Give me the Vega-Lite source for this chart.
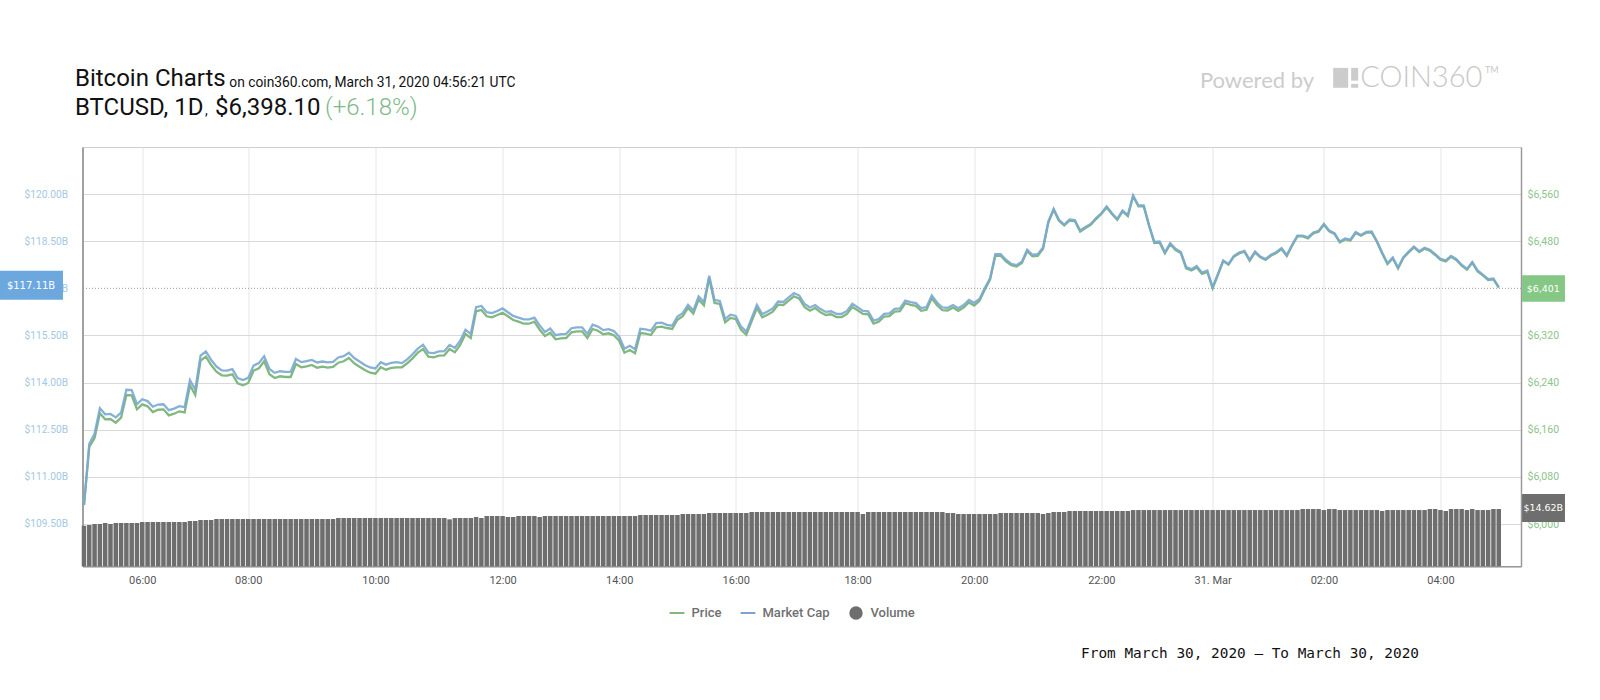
{"$schema":"https://vega.github.io/schema/vega-lite/v6.json","width":1438.5,"height":419.3,"autosize":{"type":"none"},"padding":{"left":82.5,"top":147,"right":79,"bottom":133.7},"background":"white","config":{"font":"Roboto","view":{"stroke":"#cfcfcf","strokeWidth":1}},
"data":{"values":[
{"slot":0,"price":6032.3,"cap":110.10,"volume":10.36},{"slot":1,"price":6130.8,"cap":112.05,"volume":10.54},{"slot":2,"price":6146.1,"cap":112.37,"volume":10.79},{"slot":3,"price":6188,"cap":113.18,"volume":10.79},{"slot":4,"price":6177.8,"cap":112.99,"volume":11.05},{"slot":5,"price":6178.3,"cap":113.00,"volume":10.79},{"slot":6,"price":6172.1,"cap":112.89,"volume":11.05},{"slot":7,"price":6180.6,"cap":113.04,"volume":11.05},{"slot":8,"price":6219.1,"cap":113.77,"volume":11.05},{"slot":9,"price":6218.6,"cap":113.76,"volume":11.05},
{"slot":10,"price":6194.8,"cap":113.31,"volume":11.05},{"slot":11,"price":6203.3,"cap":113.47,"volume":11.30},{"slot":12,"price":6199.9,"cap":113.41,"volume":11.30},{"slot":13,"price":6190.2,"cap":113.23,"volume":11.30},{"slot":14,"price":6194.1,"cap":113.30,"volume":11.30},{"slot":15,"price":6194.8,"cap":113.31,"volume":11.30},{"slot":16,"price":6184.6,"cap":113.12,"volume":11.30},{"slot":17,"price":6187.4,"cap":113.17,"volume":11.30},{"slot":18,"price":6191.4,"cap":113.25,"volume":11.30},{"slot":19,"price":6189.7,"cap":113.22,"volume":11.30},
{"slot":20,"price":6235.6,"cap":114.08,"volume":11.56},{"slot":21,"price":6219.1,"cap":113.77,"volume":11.56},{"slot":22,"price":6277.4,"cap":114.86,"volume":11.81},{"slot":23,"price":6284.2,"cap":114.99,"volume":11.81},{"slot":24,"price":6270.1,"cap":114.72,"volume":11.81},{"slot":25,"price":6258.7,"cap":114.51,"volume":12.07},{"slot":26,"price":6252.6,"cap":114.39,"volume":12.07},{"slot":27,"price":6251.9,"cap":114.38,"volume":12.07},{"slot":28,"price":6254.3,"cap":114.43,"volume":12.07},{"slot":29,"price":6239,"cap":114.14,"volume":12.07},
{"slot":30,"price":6235.6,"cap":114.08,"volume":12.07},{"slot":31,"price":6239.5,"cap":114.15,"volume":12.07},{"slot":32,"price":6260.4,"cap":114.54,"volume":12.07},{"slot":33,"price":6264.5,"cap":114.62,"volume":12.07},{"slot":34,"price":6276.4,"cap":114.84,"volume":12.07},{"slot":35,"price":6254.3,"cap":114.43,"volume":12.07},{"slot":36,"price":6248,"cap":114.31,"volume":12.07},{"slot":37,"price":6250.9,"cap":114.36,"volume":12.07},{"slot":38,"price":6249.7,"cap":114.34,"volume":12.07},{"slot":39,"price":6249.7,"cap":114.34,"volume":12.07},
{"slot":40,"price":6271.8,"cap":114.75,"volume":12.07},{"slot":41,"price":6266.2,"cap":114.65,"volume":12.07},{"slot":42,"price":6267.9,"cap":114.68,"volume":12.07},{"slot":43,"price":6270.1,"cap":114.72,"volume":12.07},{"slot":44,"price":6265.5,"cap":114.64,"volume":12.07},{"slot":45,"price":6267.2,"cap":114.67,"volume":12.07},{"slot":46,"price":6265.5,"cap":114.64,"volume":12.07},{"slot":47,"price":6266.7,"cap":114.66,"volume":12.07},{"slot":48,"price":6274,"cap":114.80,"volume":12.32},{"slot":49,"price":6276.4,"cap":114.84,"volume":12.32},
{"slot":50,"price":6282,"cap":114.95,"volume":12.32},{"slot":51,"price":6273,"cap":114.78,"volume":12.32},{"slot":52,"price":6267.2,"cap":114.67,"volume":12.32},{"slot":53,"price":6261.6,"cap":114.56,"volume":12.32},{"slot":54,"price":6257,"cap":114.48,"volume":12.32},{"slot":55,"price":6255.3,"cap":114.45,"volume":12.32},{"slot":56,"price":6266.2,"cap":114.65,"volume":12.32},{"slot":57,"price":6262.1,"cap":114.57,"volume":12.32},{"slot":58,"price":6265,"cap":114.63,"volume":12.32},{"slot":59,"price":6266.2,"cap":114.65,"volume":12.32},
{"slot":60,"price":6266.2,"cap":114.62,"volume":12.32},{"slot":61,"price":6273,"cap":114.74,"volume":12.32},{"slot":62,"price":6281.4,"cap":114.90,"volume":12.32},{"slot":63,"price":6291,"cap":115.08,"volume":12.32},{"slot":64,"price":6297.2,"cap":115.20,"volume":12.32},{"slot":65,"price":6284.2,"cap":114.95,"volume":12.32},{"slot":66,"price":6283.1,"cap":114.94,"volume":12.32},{"slot":67,"price":6285.9,"cap":114.99,"volume":12.32},{"slot":68,"price":6286.5,"cap":115.00,"volume":12.32},{"slot":69,"price":6297.2,"cap":115.20,"volume":11.99},
{"slot":70,"price":6291.6,"cap":115.10,"volume":12.32},{"slot":71,"price":6304,"cap":115.33,"volume":12.32},{"slot":72,"price":6322.7,"cap":115.68,"volume":12.32},{"slot":73,"price":6315.9,"cap":115.55,"volume":12.32},{"slot":74,"price":6361.3,"cap":116.40,"volume":12.58},{"slot":75,"price":6363.5,"cap":116.44,"volume":12.32},{"slot":76,"price":6352.8,"cap":116.24,"volume":12.83},{"slot":77,"price":6351.1,"cap":116.21,"volume":12.83},{"slot":78,"price":6355,"cap":116.28,"volume":12.83},{"slot":79,"price":6358.9,"cap":116.36,"volume":12.83},
{"slot":80,"price":6352.8,"cap":116.24,"volume":12.58},{"slot":81,"price":6346.5,"cap":116.12,"volume":12.58},{"slot":82,"price":6343.6,"cap":116.07,"volume":12.83},{"slot":83,"price":6340.2,"cap":116.01,"volume":12.83},{"slot":84,"price":6340.2,"cap":116.01,"volume":12.83},{"slot":85,"price":6343.6,"cap":116.07,"volume":12.83},{"slot":86,"price":6330,"cap":115.82,"volume":12.58},{"slot":87,"price":6319.3,"cap":115.61,"volume":12.83},{"slot":88,"price":6324.9,"cap":115.72,"volume":12.83},{"slot":89,"price":6313.7,"cap":115.51,"volume":12.83},
{"slot":90,"price":6315.4,"cap":115.54,"volume":12.83},{"slot":91,"price":6315.9,"cap":115.55,"volume":12.83},{"slot":92,"price":6325.6,"cap":115.73,"volume":12.83},{"slot":93,"price":6327.3,"cap":115.76,"volume":12.83},{"slot":94,"price":6327.3,"cap":115.76,"volume":12.83},{"slot":95,"price":6315.9,"cap":115.55,"volume":12.83},{"slot":96,"price":6331.2,"cap":115.84,"volume":12.83},{"slot":97,"price":6328.3,"cap":115.78,"volume":12.83},{"slot":98,"price":6322.2,"cap":115.67,"volume":12.83},{"slot":99,"price":6323.9,"cap":115.70,"volume":12.83},
{"slot":100,"price":6320.5,"cap":115.64,"volume":12.83},{"slot":101,"price":6311.3,"cap":115.46,"volume":12.83},{"slot":102,"price":6291,"cap":115.08,"volume":12.83},{"slot":103,"price":6295.5,"cap":115.17,"volume":12.83},{"slot":104,"price":6289.9,"cap":115.06,"volume":12.83},{"slot":105,"price":6324.4,"cap":115.71,"volume":13.09},{"slot":106,"price":6323.2,"cap":115.69,"volume":13.09},{"slot":107,"price":6321,"cap":115.65,"volume":13.09},{"slot":108,"price":6334.1,"cap":115.89,"volume":13.09},{"slot":109,"price":6335.1,"cap":115.91,"volume":13.09},
{"slot":110,"price":6332.9,"cap":115.84,"volume":13.09},{"slot":111,"price":6331.2,"cap":115.81,"volume":13.09},{"slot":112,"price":6347,"cap":116.10,"volume":13.09},{"slot":113,"price":6352.8,"cap":116.21,"volume":13.34},{"slot":114,"price":6366.9,"cap":116.47,"volume":13.34},{"slot":115,"price":6357.2,"cap":116.29,"volume":13.34},{"slot":116,"price":6381,"cap":116.74,"volume":13.34},{"slot":117,"price":6371.5,"cap":116.56,"volume":13.34},{"slot":118,"price":6417.8,"cap":117.40,"volume":13.60},{"slot":119,"price":6375.4,"cap":116.63,"volume":13.60},
{"slot":120,"price":6373.7,"cap":116.60,"volume":13.60},{"slot":121,"price":6342.6,"cap":116.02,"volume":13.60},{"slot":122,"price":6349.9,"cap":116.16,"volume":13.60},{"slot":123,"price":6348.2,"cap":116.12,"volume":13.60},{"slot":124,"price":6330,"cap":115.78,"volume":13.60},{"slot":125,"price":6321.5,"cap":115.62,"volume":13.60},{"slot":126,"price":6344.3,"cap":116.05,"volume":13.85},{"slot":127,"price":6366.9,"cap":116.47,"volume":13.85},{"slot":128,"price":6351.1,"cap":116.18,"volume":13.85},{"slot":129,"price":6355.5,"cap":116.26,"volume":13.85},
{"slot":130,"price":6360.6,"cap":116.36,"volume":13.85},{"slot":131,"price":6372.5,"cap":116.58,"volume":13.85},{"slot":132,"price":6372,"cap":116.57,"volume":13.85},{"slot":133,"price":6379.3,"cap":116.71,"volume":13.85},{"slot":134,"price":6386.8,"cap":116.85,"volume":13.85},{"slot":135,"price":6382.7,"cap":116.77,"volume":13.85},{"slot":136,"price":6368.1,"cap":116.50,"volume":13.85},{"slot":137,"price":6362.3,"cap":116.39,"volume":13.85},{"slot":138,"price":6366.9,"cap":116.47,"volume":13.85},{"slot":139,"price":6359.6,"cap":116.34,"volume":13.85},
{"slot":140,"price":6355,"cap":116.25,"volume":13.85},{"slot":141,"price":6356.2,"cap":116.27,"volume":13.85},{"slot":142,"price":6351.6,"cap":116.19,"volume":13.85},{"slot":143,"price":6351.6,"cap":116.19,"volume":13.85},{"slot":144,"price":6356.7,"cap":116.28,"volume":13.85},{"slot":145,"price":6368.6,"cap":116.51,"volume":13.85},{"slot":146,"price":6363,"cap":116.40,"volume":13.85},{"slot":147,"price":6356.7,"cap":116.28,"volume":13.34},{"slot":148,"price":6356.2,"cap":116.27,"volume":13.85},{"slot":149,"price":6340.2,"cap":115.97,"volume":13.85},
{"slot":150,"price":6343.4,"cap":116.02,"volume":13.85},{"slot":151,"price":6352.4,"cap":116.19,"volume":13.85},{"slot":152,"price":6353,"cap":116.20,"volume":13.85},{"slot":153,"price":6360.9,"cap":116.35,"volume":13.85},{"slot":154,"price":6361.4,"cap":116.36,"volume":13.85},{"slot":155,"price":6375,"cap":116.61,"volume":13.85},{"slot":156,"price":6372.3,"cap":116.56,"volume":13.85},{"slot":157,"price":6370.6,"cap":116.53,"volume":13.85},{"slot":158,"price":6362.1,"cap":116.37,"volume":13.85},{"slot":159,"price":6363.8,"cap":116.40,"volume":13.85},
{"slot":160,"price":6383.5,"cap":116.77,"volume":13.85},{"slot":161,"price":6371.6,"cap":116.55,"volume":13.85},{"slot":162,"price":6363.1,"cap":116.39,"volume":13.85},{"slot":163,"price":6362.6,"cap":116.38,"volume":13.60},{"slot":164,"price":6367.7,"cap":116.47,"volume":13.60},{"slot":165,"price":6362.1,"cap":116.37,"volume":13.34},{"slot":166,"price":6367.7,"cap":116.47,"volume":13.34},{"slot":167,"price":6376.2,"cap":116.63,"volume":13.34},{"slot":168,"price":6371.1,"cap":116.54,"volume":13.34},{"slot":169,"price":6379.1,"cap":116.66,"volume":13.34},
{"slot":170,"price":6397.8,"cap":117.01,"volume":13.34},{"slot":171,"price":6415.3,"cap":117.32,"volume":13.34},{"slot":172,"price":6455.5,"cap":118.09,"volume":13.34},{"slot":173,"price":6455.5,"cap":118.09,"volume":13.60},{"slot":174,"price":6446.2,"cap":117.91,"volume":13.60},{"slot":175,"price":6439.4,"cap":117.78,"volume":13.60},{"slot":176,"price":6437.2,"cap":117.74,"volume":13.60},{"slot":177,"price":6443.3,"cap":117.85,"volume":13.60},{"slot":178,"price":6463.2,"cap":118.23,"volume":13.60},{"slot":179,"price":6454.7,"cap":118.07,"volume":13.60},
{"slot":180,"price":6455.5,"cap":118.09,"volume":13.60},{"slot":181,"price":6467.6,"cap":118.30,"volume":13.34},{"slot":182,"price":6512.1,"cap":119.13,"volume":13.60},{"slot":183,"price":6533.8,"cap":119.53,"volume":13.85},{"slot":184,"price":6515,"cap":119.18,"volume":13.85},{"slot":185,"price":6507,"cap":119.03,"volume":13.85},{"slot":186,"price":6515.5,"cap":119.19,"volume":14.11},{"slot":187,"price":6514.5,"cap":119.17,"volume":14.11},{"slot":188,"price":6496.8,"cap":118.84,"volume":14.11},{"slot":189,"price":6502.6,"cap":118.95,"volume":14.11},
{"slot":190,"price":6508.2,"cap":119.05,"volume":14.11},{"slot":191,"price":6517.9,"cap":119.24,"volume":14.11},{"slot":192,"price":6526.4,"cap":119.39,"volume":14.11},{"slot":193,"price":6537.6,"cap":119.61,"volume":14.11},{"slot":194,"price":6526.4,"cap":119.39,"volume":14.11},{"slot":195,"price":6516.7,"cap":119.21,"volume":14.11},{"slot":196,"price":6530.8,"cap":119.48,"volume":14.11},{"slot":197,"price":6523,"cap":119.33,"volume":14.11},{"slot":198,"price":6556.6,"cap":119.96,"volume":14.36},{"slot":199,"price":6539.3,"cap":119.64,"volume":14.36},
{"slot":200,"price":6539.3,"cap":119.64,"volume":14.36},{"slot":201,"price":6506.5,"cap":119.02,"volume":14.36},{"slot":202,"price":6477.3,"cap":118.48,"volume":14.36},{"slot":203,"price":6477.8,"cap":118.49,"volume":14.36},{"slot":204,"price":6459.8,"cap":118.15,"volume":14.36},{"slot":205,"price":6475.1,"cap":118.44,"volume":14.36},{"slot":206,"price":6465.4,"cap":118.26,"volume":14.36},{"slot":207,"price":6460.3,"cap":118.16,"volume":14.36},{"slot":208,"price":6434,"cap":117.68,"volume":14.36},{"slot":209,"price":6430.6,"cap":117.61,"volume":14.36},
{"slot":210,"price":6435.7,"cap":117.71,"volume":14.36},{"slot":211,"price":6424.8,"cap":117.50,"volume":14.36},{"slot":212,"price":6428.2,"cap":117.57,"volume":14.36},{"slot":213,"price":6400.3,"cap":117.04,"volume":14.36},{"slot":214,"price":6422.9,"cap":117.46,"volume":14.36},{"slot":215,"price":6446.5,"cap":117.89,"volume":14.36},{"slot":216,"price":6440.4,"cap":117.78,"volume":14.36},{"slot":217,"price":6454,"cap":118.03,"volume":14.36},{"slot":218,"price":6459.6,"cap":118.14,"volume":14.36},{"slot":219,"price":6462.5,"cap":118.19,"volume":14.36},
{"slot":220,"price":6447.2,"cap":117.91,"volume":14.36},{"slot":221,"price":6461.3,"cap":118.17,"volume":14.36},{"slot":222,"price":6452.8,"cap":118.01,"volume":14.36},{"slot":223,"price":6448.4,"cap":117.93,"volume":14.36},{"slot":224,"price":6455.7,"cap":118.07,"volume":14.36},{"slot":225,"price":6460.3,"cap":118.15,"volume":14.36},{"slot":226,"price":6467.1,"cap":118.28,"volume":14.36},{"slot":227,"price":6455.2,"cap":118.06,"volume":14.36},{"slot":228,"price":6472.7,"cap":118.39,"volume":14.36},{"slot":229,"price":6488.5,"cap":118.68,"volume":14.36},
{"slot":230,"price":6488.5,"cap":118.68,"volume":14.62},{"slot":231,"price":6485.1,"cap":118.62,"volume":14.62},{"slot":232,"price":6493.6,"cap":118.78,"volume":14.62},{"slot":233,"price":6496.5,"cap":118.83,"volume":14.62},{"slot":234,"price":6508.4,"cap":119.05,"volume":14.36},{"slot":235,"price":6497,"cap":118.84,"volume":14.62},{"slot":236,"price":6492.6,"cap":118.76,"volume":14.62},{"slot":237,"price":6478.3,"cap":118.49,"volume":14.36},{"slot":238,"price":6483.4,"cap":118.59,"volume":14.36},{"slot":239,"price":6481.7,"cap":118.55,"volume":14.36},
{"slot":240,"price":6494.3,"cap":118.79,"volume":14.36},{"slot":241,"price":6489.7,"cap":118.70,"volume":14.36},{"slot":242,"price":6494.8,"cap":118.80,"volume":14.36},{"slot":243,"price":6495.3,"cap":118.81,"volume":14.36},{"slot":244,"price":6479.5,"cap":118.51,"volume":14.36},{"slot":245,"price":6459.6,"cap":118.14,"volume":14.11},{"slot":246,"price":6441.6,"cap":117.80,"volume":14.36},{"slot":247,"price":6451.1,"cap":117.98,"volume":14.36},{"slot":248,"price":6434.1,"cap":117.66,"volume":14.36},{"slot":249,"price":6451.8,"cap":117.99,"volume":14.36},
{"slot":250,"price":6461.3,"cap":118.17,"volume":14.36},{"slot":251,"price":6469.8,"cap":118.33,"volume":14.36},{"slot":252,"price":6462,"cap":118.18,"volume":14.36},{"slot":253,"price":6467.6,"cap":118.29,"volume":14.36},{"slot":254,"price":6464.2,"cap":118.23,"volume":14.62},{"slot":255,"price":6456.9,"cap":118.09,"volume":14.62},{"slot":256,"price":6448.9,"cap":117.94,"volume":14.36},{"slot":257,"price":6446,"cap":117.89,"volume":14.11},{"slot":258,"price":6454,"cap":118.03,"volume":14.62},{"slot":259,"price":6448.4,"cap":117.93,"volume":14.62},
{"slot":260,"price":6438.7,"cap":117.75,"volume":14.62},{"slot":261,"price":6431.9,"cap":117.62,"volume":14.36},{"slot":262,"price":6443.8,"cap":117.84,"volume":14.62},{"slot":263,"price":6429,"cap":117.57,"volume":14.36},{"slot":264,"price":6422.3,"cap":117.44,"volume":14.36},{"slot":265,"price":6414.4,"cap":117.29,"volume":14.36},{"slot":266,"price":6415.5,"cap":117.31,"volume":14.62},{"slot":267,"price":6401.4,"cap":117.04,"volume":14.62}
]},
"layer":[
{"mark":{"type":"bar","size":4.5},"encoding":{"x":{"field":"slot","type":"quantitative","title":null,"scale":{"domain":[-0.28,271.2],"nice":false,"zero":false,"padding":0},"axis":{"values":[11,31,55,79,101,123,146,168,192,213,234,256],"labelExpr":"['06:00','08:00','10:00','12:00','14:00','16:00','18:00','20:00','22:00','31. Mar','02:00','04:00'][indexof([11,31,55,79,101,123,146,168,192,213,234,256],datum.value)]","grid":true,"gridColor":"#e6e6e6","gridWidth":1,"ticks":false,"labelPadding":8,"labelColor":"#555555","labelFontSize":11,"labelFont":"Roboto","domainColor":"#999999","domainWidth":1.5,"labelOverlap":false,"labelFlush":false}},"y":{"field":"volume","type":"quantitative","title":null,"axis":null,"scale":{"domain":[0,107],"nice":false,"zero":true}},"color":{"datum":"Volume","type":"nominal","scale":{"domain":["Price","Market Cap","Volume"],"range":["#80b87f","#7aa7d2","#6e6e6e"]},"legend":{"title":null,"orient":"none","legendX":586,"legendY":458,"direction":"horizontal","columns":3,"gridAlign":"each","columnPadding":18,"clipHeight":16,"symbolType":"stroke","symbolSize":200,"symbolStrokeWidth":2,"labelFont":"Roboto","labelFontSize":13,"labelFontWeight":500,"labelColor":"#707070","labelOffset":6,"encode":{"symbols":{"update":{"shape":{"signal":"datum.value==='Volume'?'circle':'stroke'"},"size":{"signal":"datum.value==='Volume'?130:220"},"fill":{"signal":"datum.value==='Volume'?'#6e6e6e':'transparent'"},"stroke":{"signal":"datum.value==='Volume'?'#6e6e6e':(datum.value==='Price'?'#80b87f':'#7aa7d2')"}}}}}}}},
{"mark":{"type":"line","strokeWidth":2.3,"interpolate":"linear"},"encoding":{"x":{"field":"slot","type":"quantitative","title":null},"y":{"field":"price","type":"quantitative","title":null,"scale":{"domain":[5928.2,6640.3],"nice":false,"zero":false},"axis":{"orient":"right","values":[6000,6080,6160,6240,6320,6400,6480,6560],"labelExpr":"'$'+format(datum.value,',')","grid":false,"ticks":false,"labelPadding":6,"labelColor":"#8cc48a","labelFontSize":10.5,"domainColor":"#9a9a9a","domainWidth":1.5}},"color":{"datum":"Price","type":"nominal"}}},
{"layer":[
{"mark":{"type":"line","strokeWidth":2.3,"opacity":0.9,"interpolate":"linear"},"encoding":{"x":{"field":"slot","type":"quantitative","title":null},"y":{"field":"cap","type":"quantitative","title":null,"scale":{"domain":[108.15,121.5],"nice":false,"zero":false},"axis":{"orient":"left","values":[109.5,111,112.5,114,115.5,117,118.5,120],"labelExpr":"'$'+format(datum.value,'.2f')+'B'","grid":true,"gridColor":{"condition":{"test":"datum.value===117","value":"transparent"},"value":"#d9d9d9"},"gridWidth":1,"ticks":false,"labelPadding":15,"labelColor":"#a5c8e0","labelFontSize":10.2,"domainColor":"#8a8a8a","domainWidth":1.5}},"color":{"datum":"Market Cap","type":"nominal"}}},
{"data":{"values":[{"note":"last"}]},"mark":{"type":"rule","strokeDash":[1,2],"color":"#999999","strokeWidth":1},"encoding":{"y":{"datum":117,"type":"quantitative"}}},
{"data":{"values":[{"note":"box"}]},"mark":{"type":"rect","color":"#6ca7de"},"encoding":{"x":{"datum":-15.85,"type":"quantitative"},"x2":{"datum":-3.96},"y":{"datum":117.557,"type":"quantitative"},"y2":{"datum":116.634}}},
{"data":{"values":[{"note":"box"}]},"mark":{"type":"rect","color":"#85c784"},"encoding":{"x":{"datum":271.4,"type":"quantitative"},"x2":{"datum":279.5},"y":{"datum":117.414,"type":"quantitative"},"y2":{"datum":116.57}}},
{"data":{"values":[{"note":"box"}]},"mark":{"type":"rect","color":"#6e6e6e"},"encoding":{"x":{"datum":271.4,"type":"quantitative"},"x2":{"datum":279.5},"y":{"datum":110.455,"type":"quantitative"},"y2":{"datum":109.564}}},
{"data":{"values":[{"label":"$117.11B"}]},"mark":{"type":"text","font":"DejaVu Sans","fontSize":10,"color":"white","align":"center","baseline":"middle"},"encoding":{"text":{"field":"label"},"x":{"datum":-10,"type":"quantitative"},"y":{"datum":117.08,"type":"quantitative"}}},
{"data":{"values":[{"label":"$6,401"}]},"mark":{"type":"text","font":"DejaVu Sans","fontSize":9.5,"color":"white","align":"center","baseline":"middle"},"encoding":{"text":{"field":"label"},"x":{"datum":275.4,"type":"quantitative"},"y":{"datum":116.99,"type":"quantitative"}}},
{"data":{"values":[{"label":"$14.62B"}]},"mark":{"type":"text","font":"DejaVu Sans","fontSize":9.5,"color":"white","align":"center","baseline":"middle"},"encoding":{"text":{"field":"label"},"x":{"datum":275.4,"type":"quantitative"},"y":{"datum":110.01,"type":"quantitative"}}},
{"data":{"values":[{"label":"Bitcoin Charts"}]},"mark":{"type":"text","fontSize":24,"color":"#111111","align":"left","baseline":"alphabetic"},"encoding":{"text":{"field":"label"},"x":{"datum":-1.7,"type":"quantitative"},"y":{"datum":123.427,"type":"quantitative"}}},
{"data":{"values":[{"label":"on coin360.com, March 31, 2020 04:56:21 UTC"}]},"mark":{"type":"text","fontSize":13.8,"color":"#111111","align":"left","baseline":"alphabetic"},"encoding":{"text":{"field":"label"},"x":{"datum":27.43,"type":"quantitative"},"y":{"datum":123.417,"type":"quantitative"}}},
{"data":{"values":[{"label":"BTCUSD, 1D"}]},"mark":{"type":"text","fontSize":24,"color":"#111111","align":"left","baseline":"alphabetic"},"encoding":{"text":{"field":"label"},"x":{"datum":-1.7,"type":"quantitative"},"y":{"datum":122.503,"type":"quantitative"}}},
{"data":{"values":[{"label":","}]},"mark":{"type":"text","fontSize":14,"color":"#111111","align":"left","baseline":"alphabetic"},"encoding":{"text":{"field":"label"},"x":{"datum":22.84,"type":"quantitative"},"y":{"datum":122.503,"type":"quantitative"}}},
{"data":{"values":[{"label":"$6,398.10"}]},"mark":{"type":"text","fontSize":24,"color":"#111111","align":"left","baseline":"alphabetic"},"encoding":{"text":{"field":"label"},"x":{"datum":24.73,"type":"quantitative"},"y":{"datum":122.503,"type":"quantitative"}}},
{"data":{"values":[{"label":"(+6.18%)"}]},"mark":{"type":"text","fontSize":24,"fontWeight":300,"color":"#7fb98a","align":"left","baseline":"alphabetic"},"encoding":{"text":{"field":"label"},"x":{"datum":45.5,"type":"quantitative"},"y":{"datum":122.503,"type":"quantitative"}}},
{"data":{"values":[{"label":"Powered by"}]},"mark":{"type":"text","font":"Lato","fontSize":22,"color":"#cccccc","align":"left","baseline":"alphabetic"},"encoding":{"text":{"field":"label"},"x":{"datum":210.6,"type":"quantitative"},"y":{"datum":123.385,"type":"quantitative"}}},
{"data":{"values":[{"note":"logo"}]},"mark":{"type":"rect","color":"#cccccc"},"encoding":{"x":{"datum":235.75,"type":"quantitative"},"x2":{"datum":238.58},"y":{"datum":124.02,"type":"quantitative"},"y2":{"datum":123.385}}},
{"data":{"values":[{"note":"logo"}]},"mark":{"type":"rect","color":"#cccccc"},"encoding":{"x":{"datum":239.15,"type":"quantitative"},"x2":{"datum":240.47},"y":{"datum":124.02,"type":"quantitative"},"y2":{"datum":123.61}}},
{"data":{"values":[{"note":"logo"}]},"mark":{"type":"rect","color":"#cccccc"},"encoding":{"x":{"datum":239.15,"type":"quantitative"},"x2":{"datum":240.47},"y":{"datum":123.51,"type":"quantitative"},"y2":{"datum":123.385}}},
{"data":{"values":[{"label":"COIN360"}]},"mark":{"type":"text","font":"Lato","fontSize":29,"fontWeight":300,"color":"#c8c8c8","align":"left","baseline":"alphabetic"},"encoding":{"text":{"field":"label"},"x":{"datum":240.85,"type":"quantitative"},"y":{"datum":123.395,"type":"quantitative"}}},
{"data":{"values":[{"label":"TM"}]},"mark":{"type":"text","font":"Lato","fontSize":9,"color":"#c8c8c8","align":"left","baseline":"alphabetic"},"encoding":{"text":{"field":"label"},"x":{"datum":264.4,"type":"quantitative"},"y":{"datum":123.85,"type":"quantitative"}}},
{"data":{"values":[{"label":"From March 30, 2020 – To March 30, 2020"}]},"mark":{"type":"text","font":"DejaVu Sans Mono","fontSize":14.4,"color":"#111111","align":"left","baseline":"alphabetic"},"encoding":{"text":{"field":"label"},"x":{"datum":188.18,"type":"quantitative"},"y":{"datum":105.23,"type":"quantitative"}}}
]}
],
"resolve":{"scale":{"y":"independent"},"axis":{"y":"independent"}}}
